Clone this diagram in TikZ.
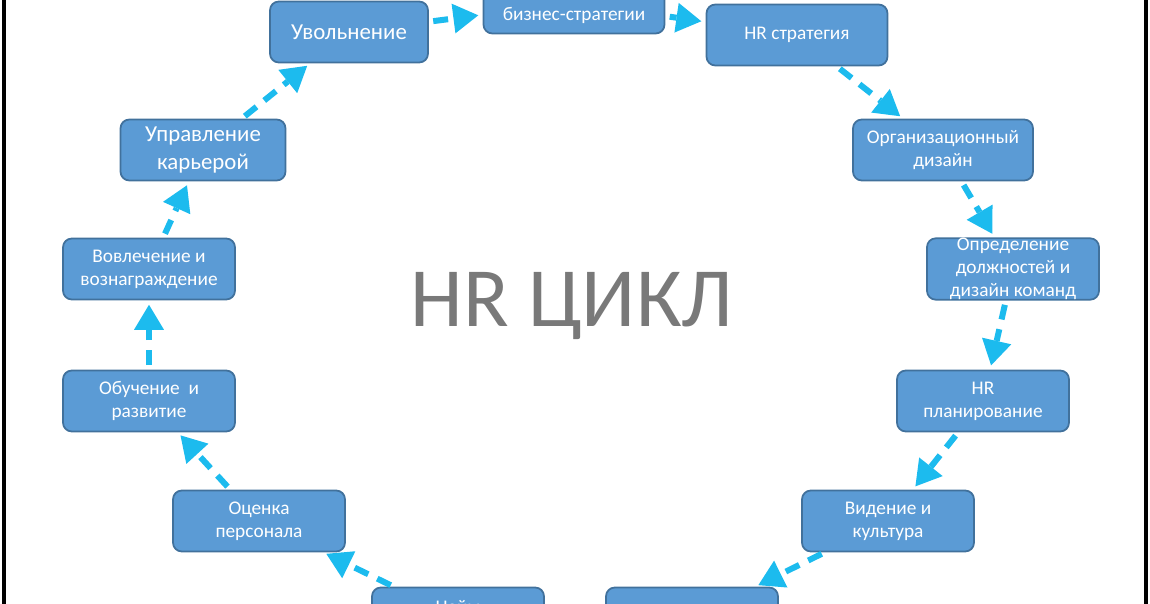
\documentclass[tikz,border=0pt]{standalone}
\usepackage{fontspec}
\setmainfont{Carlito}
\usetikzlibrary{arrows.meta}
\definecolor{boxfill}{HTML}{5B9BD5}
\definecolor{boxline}{HTML}{41719C}
\definecolor{arrowblue}{HTML}{1CBBEE}
\begin{document}
\begin{tikzpicture}[x=0.02cm,y=-0.02cm,
  every node/.style={inner sep=0,outer sep=0},
  box/.style={rectangle,rounded corners=5pt,draw=boxline,line width=1pt,fill=boxfill,
    text=white,align=center,minimum width=3.44cm,minimum height=1.22cm,font=\fontsize{11}{13}\selectfont},
  flow/.style={draw=arrowblue,line width=1.2mm,dash pattern=on 3mm off 2mm,
    shorten <=3pt,shorten >=3pt,-{Triangle[width=6mm,length=5mm,line width=0pt]}}]
  \useasboundingbox (0,0) rectangle (1150,604);
  \clip (0,0) rectangle (1150,604);
  %% Frame
  \draw[line width=0.07cm] (4,0) -- (4,604);
  \draw[line width=0.07cm] (1146,0) -- (1146,604);
  %% Title
  \node[text=gray!95!black,font=\fontsize{48}{50}\selectfont] (title) at (572,306) {HR ЦИКЛ};
  %% Upper boxes
  \node[box,minimum width=3.16cm,font=\fontsize{13}{15}\selectfont] (B1) at (349,32) {Увольнение};
  \node[box,minimum width=3.62cm] (B2) at (574,3) {\vphantom{X}\\[2pt]бизнес-стратегии};
  \node[box,minimum width=3.62cm] (B3) at (797,35) {HR стратегия};
  %% Right side
  \node[box,minimum width=3.6cm] (B4) at (943,150) {Организационный\\дизайн};
  \node[box] (B5) at (1013,269) {Определение\\должностей и\\дизайн команд};
  \node[box] (B6) at (983,401) {HR\\планирование};
  \node[box] (B7) at (888,521) {Видение и\\культура};
  %% Bottom
  \node[box] (B8) at (692,618) {};
  \node[box] (B9) at (458,618) {Найм\\};
  %% Left side
  \node[box] (B10) at (259,521) {Оценка\\персонала};
  \node[box] (B11) at (149,401) {Обучение~ и\\развитие};
  \node[box] (B12) at (149,269) {Вовлечение и\\вознаграждение};
  \node[box,minimum width=3.3cm,font=\fontsize{13}{16}\selectfont] (B13) at (203,150) {Управление\\карьерой};

  \draw[flow] (B1) -- (B2);
  \draw[flow] (B2) -- (B3);
  \draw[flow] (B3) -- (B4);
  \draw[flow] (B4) -- (B5);
  \draw[flow] (B5) -- (B6);
  \draw[flow] (B6) -- (B7);
  \draw[flow] (B7) -- (B8);
  \draw[flow] (B9) -- (B10);
  \draw[flow] (B10) -- (B11);
  \draw[flow] (B11) -- (B12);
  \draw[flow] (B12) -- (B13);
  \draw[flow] (B13) -- (B1);
\end{tikzpicture}
\end{document}
